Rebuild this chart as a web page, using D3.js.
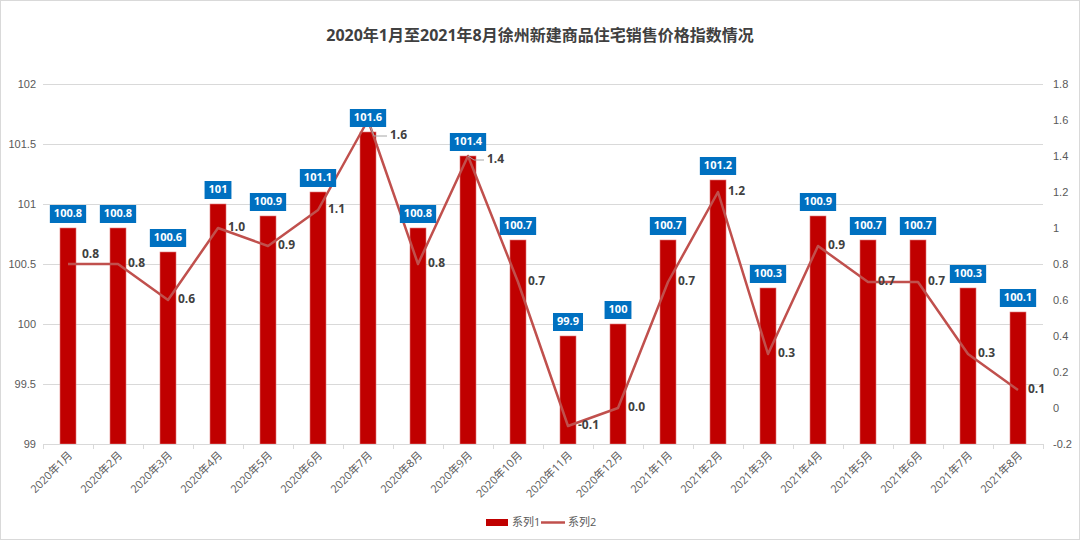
<!DOCTYPE html>
<html><head><meta charset="utf-8">
<script src="https://cdn.jsdelivr.net/npm/d3@7"></script>
<style>body{margin:0;background:#fff;}svg{display:block;font-family:"Open Sans","Noto Sans CJK SC",sans-serif;}</style>
</head><body>
<svg id="c" width="1080" height="541"></svg>
<script>
const categories = ["2020年1月","2020年2月","2020年3月","2020年4月","2020年5月","2020年6月","2020年7月","2020年8月","2020年9月","2020年10月","2020年11月","2020年12月","2021年1月","2021年2月","2021年3月","2021年4月","2021年5月","2021年6月","2021年7月","2021年8月"];
const series1 = [100.8,100.8,100.6,101,100.9,101.1,101.6,100.8,101.4,100.7,99.9,100,100.7,101.2,100.3,100.9,100.7,100.7,100.3,100.1];
const series2 = [0.8,0.8,0.6,1.0,0.9,1.1,1.6,0.8,1.4,0.7,-0.1,0.0,0.7,1.2,0.3,0.9,0.7,0.7,0.3,0.1];
const leftTicks = [99,99.5,100,100.5,101,101.5,102];
const rightTicks = [-0.2,0,0.2,0.4,0.6,0.8,1,1.2,1.4,1.6,1.8];
const seriesNames = ["系列1","系列2"];
const title = "2020年1月至2021年8月徐州新建商品住宅销售价格指数情况";

const svg = d3.select("#c");
const W=1080,H=541;
const m={l:43,r:1043,t:84,b:444};
svg.append("rect").attr("x",0.5).attr("y",0.5).attr("width",W-1).attr("height",H-2).attr("fill","#fff").attr("stroke","#d9d9d9");

const x = d3.scaleBand().domain(categories).range([m.l,m.r]).paddingInner(0).paddingOuter(0);
const yL = d3.scaleLinear().domain([99,102]).range([m.b,m.t]);
const yR = d3.scaleLinear().domain([-0.2,1.8]).range([m.b,m.t]);

// gridlines
svg.append("g").selectAll("line").data(leftTicks).join("line")
  .attr("x1",m.l).attr("x2",m.r).attr("y1",d=>yL(d)+0.5).attr("y2",d=>yL(d)+0.5)
  .attr("stroke","#d9d9d9").attr("stroke-width",1);

// left axis labels
const axL = svg.append("g").attr("transform",`translate(${m.l},0)`)
  .call(d3.axisLeft(yL).tickValues(leftTicks).tickSize(0).tickPadding(7).tickFormat(d=>String(d)));
axL.select(".domain").remove();
axL.selectAll("text").attr("fill","#595959").attr("font-size",11);

const axR = svg.append("g").attr("transform",`translate(${m.r},0)`)
  .call(d3.axisRight(yR).tickValues(rightTicks).tickSize(0).tickPadding(10).tickFormat(d=>String(+d.toFixed(1))));
axR.select(".domain").remove();
axR.selectAll("text").attr("fill","#595959").attr("font-size",11);

// bars
const bw=16;
svg.append("g").selectAll("rect").data(series1).join("rect")
  .attr("x",(d,i)=>x(categories[i])+x.bandwidth()/2-bw/2)
  .attr("width",bw)
  .attr("y",d=>yL(d)).attr("height",d=>yL(99)-yL(d))
  .attr("fill","#C00000").attr("stroke","#e07a7a").attr("stroke-width",0.6);

// x axis
const axB = svg.append("g").attr("transform",`translate(0,${m.b})`)
  .call(d3.axisBottom(x).tickSize(0).tickFormat(""));
axB.select(".domain").attr("stroke","#d9d9d9");
axB.selectAll(".tick").remove();
const bounds = categories.map(c=>x(c)).concat([m.r]);
svg.append("g").selectAll("line").data(bounds).join("line")
  .attr("x1",d=>Math.round(d)+0.5).attr("x2",d=>Math.round(d)+0.5)
  .attr("y1",m.b).attr("y2",m.b+5).attr("stroke","#d9d9d9");
svg.append("g").selectAll("text").data(categories).join("text")
  .attr("transform",d=>`translate(${x(d)+x.bandwidth()/2+3},${m.b+10}) rotate(-45)`)
  .attr("text-anchor","end").attr("dominant-baseline","middle")
  .attr("font-size",11).attr("fill","#595959").text(d=>d);

// line
const line = d3.line().x((d,i)=>x(categories[i])+x.bandwidth()/2).y(d=>yR(d));
svg.append("path").datum(series2).attr("d",line).attr("fill","none")
  .attr("stroke","#C0504D").attr("stroke-width",2.5).attr("stroke-linejoin","round");

// line labels
const lg = svg.append("g");
series2.forEach((v,i)=>{
  const cx = x(categories[i])+x.bandwidth()/2, cy=yR(v);
  let tx=cx+10, ty=cy;
  if(i===0){tx=cx+14; ty=cy-9;}
  if(i===6||i===8){
    const ex = i===6? cx+19 : cx+16, ey = i===6? cy+16 : cy+4;
    lg.append("polyline").attr("points",`${cx},${cy} ${cx+6},${ey} ${ex},${ey}`)
      .attr("fill","none").attr("stroke","#a6a6a6").attr("stroke-width",1);
    tx=ex+3; ty=ey;
  }
  lg.append("text").attr("x",tx).attr("y",ty).attr("dominant-baseline","middle")
    .attr("font-size",12).attr("font-weight","bold").attr("fill","#404040")
    .text(v.toFixed(1));
});

// bar labels
const bg = svg.append("g");
series1.forEach((v,i)=>{
  const cx = x(categories[i])+x.bandwidth()/2, top=yL(v);
  const t = bg.append("text").attr("x",cx).attr("y",top-14).attr("text-anchor","middle")
    .attr("dominant-baseline","middle").attr("font-size",11).attr("font-weight","bold")
    .attr("fill","#fff").text(String(v));
  const w = t.node().getComputedTextLength()+8;
  bg.insert("rect","text").attr("x",cx-w/2).attr("y",top-23).attr("width",w).attr("height",18)
    .attr("fill","#0070C0");
});

// title
svg.append("text").attr("x",540).attr("y",41).attr("text-anchor","middle")
  .attr("font-size",16).attr("font-weight","bold").attr("fill","#404040").text(title);

// legend
const leg = svg.append("g");
leg.append("rect").attr("x",486).attr("y",519).attr("width",22).attr("height",7).attr("fill","#C00000");
leg.append("text").attr("x",512).attr("y",523).attr("dominant-baseline","middle").attr("font-size",11).attr("fill","#595959").text(seriesNames[0]);
leg.append("line").attr("x1",541).attr("x2",565).attr("y1",522.5).attr("y2",522.5).attr("stroke","#C0504D").attr("stroke-width",2.5);
leg.append("text").attr("x",568).attr("y",523).attr("dominant-baseline","middle").attr("font-size",11).attr("fill","#595959").text(seriesNames[1]);
</script>
</body></html>
